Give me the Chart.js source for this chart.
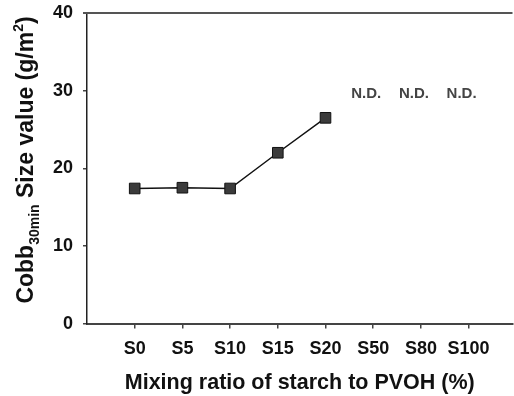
<!DOCTYPE html>
<html><head><meta charset="utf-8">
<script src="https://cdn.jsdelivr.net/npm/chart.js@4/dist/chart.umd.min.js"></script>
<style>html,body{margin:0;padding:0;background:#fff;overflow:hidden}#wrap{width:514px;height:396px;overflow:hidden}</style>
</head><body><div id="wrap"><canvas id="c" width="521" height="396"></canvas></div>
<script>
const categories = ["S0","S5","S10","S15","S20","S50","S80","S100"];
const cobbValues = [17.4, 17.5, 17.4, 22.0, 26.5, null, null, null];
const ndCategories = [5, 6, 7];
const ndLabel = "N.D.";
const yTicks = [0, 10, 20, 30, 40];
const FONT = "'Liberation Sans', Arial, sans-serif";

const pts = cobbValues.map((v,i)=> v===null?null:{x:i,y:v}).filter(p=>p);

const extras = {
  id:'extras',
  afterDraw(chart){
    const ctx = chart.ctx, xs = chart.scales.x, ys = chart.scales.y, ca = chart.chartArea;
    ctx.save();
    ctx.strokeStyle = '#555'; ctx.lineWidth = 2;
    ctx.beginPath(); ctx.moveTo(ca.left - 4, ca.top); ctx.lineTo(ca.right, ca.top); ctx.stroke();
    ctx.fillStyle = '#444';
    ctx.font = 'bold 15px ' + FONT;
    ctx.textAlign = 'center'; ctx.textBaseline = 'middle';
    ndCategories.forEach(i=>{
      ctx.fillText(ndLabel, xs.getPixelForValue(i) - 7, ys.getPixelForValue(29.6));
    });
    ctx.restore();
    // rotated y title with sub/superscript
    ctx.save();
    const big = 'bold 23px ' + FONT, small = 'bold 14px ' + FONT;
    const parts = [
      {t:'Cobb', f:big, dy:0},
      {t:'30min', f:small, dy:6},
      {t:' Size value (g/m', f:big, dy:0},
      {t:'2', f:small, dy:-10},
      {t:')', f:big, dy:0}
    ];
    let total = 0;
    parts.forEach(p=>{ctx.font=p.f; p.w=ctx.measureText(p.t).width; total+=p.w;});
    ctx.translate(33, 160);
    ctx.rotate(-Math.PI/2);
    ctx.fillStyle = '#111';
    ctx.textBaseline = 'alphabetic'; ctx.textAlign='left';
    let x = -total/2;
    parts.forEach(p=>{ctx.font=p.f; ctx.fillText(p.t, x, p.dy); x+=p.w;});
    ctx.restore();
  }
};

new Chart(document.getElementById('c'), {
  type:'scatter',
  data:{datasets:[{
    data: pts,
    showLine:true,
    borderColor:'#111',
    borderWidth:1.5,
    backgroundColor:'#3b3b3b',
    pointStyle:'rect',
    pointRadius:7.5,
    pointBorderColor:'#111',
    pointBorderWidth:1,
    tension:0
  }]},
  options:{
    responsive:false, animation:false,
    layout:{padding:{top:13,right:0,bottom:0,left:0}},
    plugins:{legend:{display:false},tooltip:{enabled:false}},
    scales:{
      x:{
        type:'linear', min:-1, max:7.92,
        afterBuildTicks(s){ s.ticks = categories.map((c,i)=>({value:i})); },
        ticks:{callback:(v)=>categories[v], color:'#111', font:{family:FONT, size:18, weight:'bold'}, padding:10, autoSkip:false, maxRotation:0},
        grid:{drawOnChartArea:false, drawTicks:true, tickLength:5, color:'#444', lineWidth:1.5},
        border:{color:'#444', width:2},
        title:{display:true, text:'Mixing ratio of starch to PVOH (%)', color:'#111', font:{family:FONT, size:21.5, weight:'bold'}, padding:{top:0,bottom:0}}
      },
      y:{
        min:0, max:40,
        afterBuildTicks(s){ s.ticks = yTicks.map(v=>({value:v})); },
        afterFit(s){ s.width = 87; },
        ticks:{color:'#111', font:{family:FONT, size:18, weight:'bold', lineHeight:0.3}, padding:10},
        grid:{drawOnChartArea:false, drawTicks:true, tickLength:4, color:'#444', lineWidth:1.5},
        border:{color:'#222', width:1.5}
      }
    }
  },
  plugins:[extras]
});
</script></body></html>
